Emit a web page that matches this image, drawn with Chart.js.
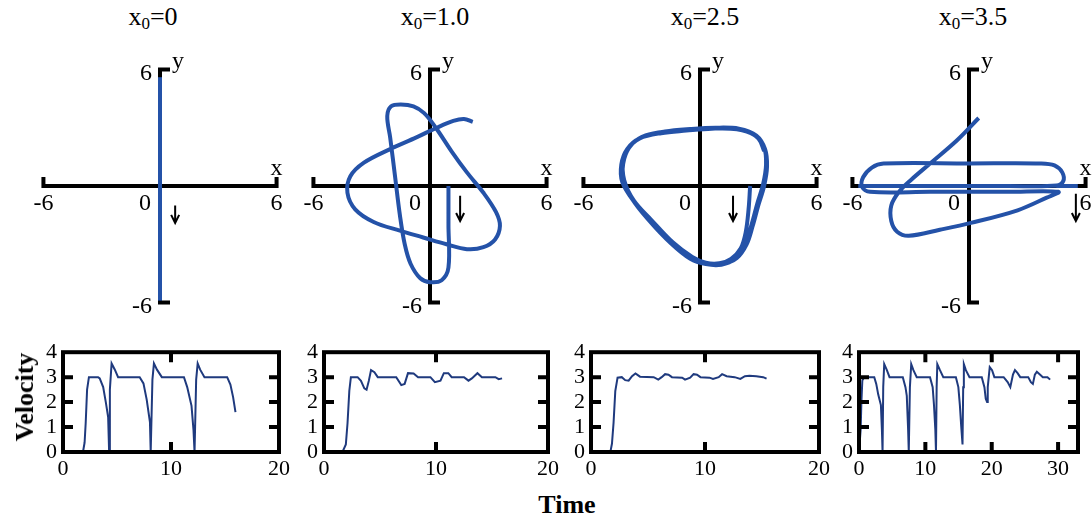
<!DOCTYPE html>
<html>
<head>
<meta charset="utf-8">
<script src="https://cdn.jsdelivr.net/npm/chart.js"></script>
<style>
body { margin:0; width:1092px; height:522px; overflow:hidden; background:#fff; position:relative; font-family:"Liberation Serif", serif; }
canvas { position:absolute; }
.ttl { position:absolute; top:0; font-size:26px; line-height:34px; white-space:nowrap; transform:translateX(-50%); }
.ttl sub { font-size:17px; vertical-align:-4px; line-height:0; }
#vel { position:absolute; left:25px; top:397px; font-weight:bold; font-size:26px; white-space:nowrap; transform:translate(-50%,-50%) rotate(-90deg); }
#time { position:absolute; left:567px; top:505px; font-weight:bold; font-size:26px; transform:translate(-50%,-50%); }
</style>
</head>
<body>
<div class="ttl" style="left:153px">x<sub>0</sub>=0</div>
<div class="ttl" style="left:435px">x<sub>0</sub>=1.0</div>
<div class="ttl" style="left:705px">x<sub>0</sub>=2.5</div>
<div class="ttl" style="left:973px">x<sub>0</sub>=3.5</div>

<canvas id="top1" width="272" height="272" style="left:24px;top:50px"></canvas>
<canvas id="top2" width="272" height="272" style="left:294px;top:50px"></canvas>
<canvas id="top3" width="272" height="272" style="left:564px;top:50px"></canvas>
<canvas id="top4" width="272" height="272" style="left:833px;top:50px"></canvas>

<canvas id="vel1" width="271" height="149" style="left:23px;top:333px"></canvas>
<canvas id="vel2" width="279" height="149" style="left:284px;top:333px"></canvas>
<canvas id="vel3" width="283" height="149" style="left:551px;top:333px"></canvas>
<canvas id="vel4" width="274" height="149" style="left:819px;top:333px"></canvas>

<div id="vel">Velocity</div>
<div id="time">Time</div>

<script>
// trajectories (x, y) for each starting point
var pathX1 = [0, 0]
var pathY1 = [5.6, -5.9]

var pathX2 = [0.95,0.95,0.95,0.6,0,-0.5,-1.0,-1.3,-1.55,-1.8,-2.05,-2.2,-2.0,-1.5,-0.85,-0.3,0.3,1.1,1.9,2.75,3.4,3.6,3.35,2.75,1.9,0.85,-0.35,-1.55,-2.9,-3.85,-4.25,-4.1,-3.4,-2.05,-0.7,0.35,1.2,1.75,2.2]
var pathY2 = [0,-2.0,-4.2,-4.85,-4.95,-4.75,-4.0,-3.0,-1.5,0.5,2.5,3.6,4.1,4.2,4.1,3.75,3.0,1.8,0.7,-0.35,-1.35,-2.05,-2.75,-3.15,-3.25,-3.0,-2.65,-2.3,-1.85,-1.2,-0.35,0.5,1.2,1.9,2.5,3.0,3.35,3.45,3.3]

var pathX3 = [2.58,2.5,2.35,2.1,1.6,1.0,0.3,-0.4,-1.4,-2.5,-3.4,-3.9,-3.95,-3.6,-2.9,-1.8,-0.5,0.8,2.0,2.9,3.35,3.45,3.3,3.0,2.7,2.4,1.9,1.2,0.4,-0.3,-1.3,-2.4,-3.4,-4.0,-4.05,-3.75,-3.1,-2.0,-0.7,0.6,1.9,2.8,3.3,3.4,3.25,2.95,2.65,2.3,1.8,1.1,0.3,-0.5,-1.5,-2.6,-3.5,-3.95,-3.9,-3.5,-2.8,-1.6,-0.2,1.2,2.3,3.0,3.3]
var pathY3 = [0,-1.2,-2.4,-3.2,-3.75,-3.98,-3.95,-3.65,-2.9,-1.75,-0.75,0.3,1.3,2.05,2.55,2.8,2.93,3.0,2.95,2.6,1.9,1.0,0.0,-1.0,-2.1,-3.0,-3.7,-4.0,-4.0,-3.8,-3.1,-1.95,-0.8,0.2,1.1,1.9,2.45,2.72,2.85,2.95,2.92,2.62,2.0,1.1,0.1,-0.9,-2.0,-3.0,-3.75,-4.05,-4.02,-3.75,-2.95,-1.8,-0.65,0.4,1.4,2.15,2.6,2.82,2.95,2.98,2.85,2.45,1.8]

var pathX4 = [0.5,-0.6,-2.0,-3.0,-3.6,-4.0,-4.0,-3.7,-3.1,-1.5,0.1,2.5,4.0,4.6,2,-2,-5.1,-5.5,-5.45,-5.0,-4.4,0,3.7,4.4,4.8,4.85,4.5,2,-2,-5.7,null,4.5,5.6]
var pathY4 = [3.5,2.37,1.16,0.3,-0.3,-1.0,-1.8,-2.35,-2.56,-2.25,-1.9,-1.25,-0.6,-0.3,-0.3,-0.3,-0.3,-0.05,0.45,0.95,1.16,1.16,1.16,1.06,0.7,0.25,0.02,0.0,0.0,0.0,null,0.0,0.0]

// start direction arrows: x, top y, bottom y
var arrowX = [0.78, 1.55, 1.7, 5.5]
var arrowTop = [-1.0, -0.5, -0.5, -0.4]
var arrowBottom = [-1.9, -1.8, -1.8, -1.8]

// velocity vs time
var time1 = [0,1.85,2.0,2.1,2.23,2.4,3.25,3.4,3.72,3.97,4.18,4.27,4.34,4.5,4.8,5.1,7.1,7.45,7.75,8.05,8.12,8.28,8.42,8.7,9.15,11.2,11.5,11.9,12.08,12.18,12.33,12.47,12.7,13.1,15.2,15.5,15.75,15.97]
var velo1 = [0,0,0.38,1.15,2.5,3.0,3.0,2.95,2.6,1.98,1.4,0,2.5,3.55,3.3,3.0,3.0,2.75,2.1,1.2,0,2.9,3.55,3.3,3.0,3.0,2.6,1.85,0.9,0,2.9,3.55,3.3,3.0,3.0,2.7,2.2,1.6]

var time2 = [0,1.65,1.95,2.1,2.26,2.4,3.0,3.3,3.6,3.8,4.0,4.2,4.5,4.8,6.45,6.9,7.2,7.5,8.0,8.4,9.5,9.9,10.4,10.7,11.1,11.4,12.5,12.9,13.2,13.7,14.1,15.3,15.6,15.9]
var velo2 = [0,0,0.3,1.15,2.45,3.0,3.0,2.85,2.55,2.5,2.85,3.28,3.2,3.0,3.0,2.68,2.73,3.16,3.15,3.0,3.0,2.8,2.86,3.16,3.16,3.0,3.0,2.86,2.95,3.16,3.0,3.0,2.92,2.95]

var time3 = [0,1.7,1.84,1.98,2.13,2.33,2.7,3.0,3.3,3.6,3.9,4.3,5.5,5.9,6.2,6.5,6.8,7.1,8.0,8.25,8.7,9.0,9.3,9.6,10.4,10.7,11.2,11.5,11.9,12.6,13.1,13.5,13.9,14.5,15.1,15.4]
var velo3 = [0,0,0.34,1.18,2.44,2.98,3.0,2.88,2.86,3.04,3.15,3.02,3.0,2.9,3.0,3.12,3.1,3.0,2.98,2.9,2.98,3.12,3.1,3.0,2.98,2.93,3.0,3.12,3.04,3.0,2.93,3.04,3.06,3.04,3.0,2.94]

var time4 = [0,0.25,0.36,0.5,0.76,2.3,2.6,2.9,3.3,3.45,3.55,3.65,3.8,4.2,4.6,6.6,7.0,7.2,7.4,7.5,7.67,7.87,8.2,8.7,10.7,11.1,11.3,11.5,11.6,11.7,11.8,12.2,12.7,14.6,14.97,15.2,15.4,15.6,15.7,15.8,16.1,16.65,18.5,18.9,19.1,19.3,19.4,19.7,20.05,20.4,21.8,22.4,22.8,23.2,23.5,23.9,24.3,25.5,25.9,26.2,26.5,26.8,27.3,27.7,28.4,28.8]
var velo4 = [0,0.9,2.0,2.86,3.0,3.0,2.73,2.3,1.88,0.9,0,2.6,3.52,3.28,3.0,3.0,2.6,2.25,0.9,0,2.6,3.52,3.28,3.0,3.0,2.6,1.88,0.9,0,2.6,3.52,3.28,3.0,3.0,2.6,1.88,1.03,0.3,2.6,3.52,3.28,3.0,3.0,2.6,2.13,2.0,2.6,3.4,3.28,3.0,3.0,2.8,2.6,3.1,3.28,3.16,3.0,3.0,2.8,2.73,3.1,3.22,3.1,3.0,3.0,2.9]

var timeMax = [20, 20, 20, 33]

var blue = '#2452a8'
var navy = '#1f3a7e'
var serif = '"Liberation Serif", "Times New Roman", serif'

function pts(xs, ys) {
    return xs.map(function (x, i) { return { x: x, y: ys[i] } })
}

// black cross axes with bracket ends, drawn under the trajectory
var crossAxes = {
    id: 'crossAxes',
    beforeDatasetsDraw: function (chart, args, opts) {
        var ctx = chart.ctx
        var px = function (v) { return chart.scales.x.getPixelForValue(v) }
        var py = function (v) { return chart.scales.y.getPixelForValue(v) }
        ctx.save()
        ctx.strokeStyle = '#000'
        ctx.lineWidth = 4
        ctx.lineJoin = 'miter'
        ctx.beginPath()
        ctx.moveTo(px(-6), py(0) - 9)
        ctx.lineTo(px(-6), py(0))
        ctx.lineTo(px(6), py(0))
        ctx.lineTo(px(6), py(0) - 9)
        ctx.stroke()
        ctx.beginPath()
        ctx.moveTo(px(0) + 10, py(6))
        ctx.lineTo(px(0), py(6))
        ctx.lineTo(px(0), py(-6))
        ctx.lineTo(px(0) + 10, py(-6))
        ctx.stroke()

        ctx.fillStyle = '#000'
        ctx.font = '24px ' + serif
        ctx.textAlign = 'center'
        ctx.textBaseline = 'top'
        ctx.fillText('-6', px(-6), py(0) + 6)
        ctx.fillText('6', px(6), py(0) + 6)
        ctx.fillText('0', px(0) - 15, py(0) + 6)
        ctx.textBaseline = 'alphabetic'
        ctx.fillText('x', px(6), py(0) - 11)
        ctx.textAlign = 'left'
        ctx.textBaseline = 'middle'
        ctx.fillText('y', px(0) + 12, py(6) - 8)
        ctx.textAlign = 'right'
        ctx.fillText('6', px(0) - 8, py(6) + 4)
        ctx.fillText('-6', px(0) - 8, py(-6) + 4)

        // start direction arrow
        var a = opts.arrow
        var ax = px(a[0]), ay1 = py(a[1]), ay2 = py(a[2])
        ctx.lineWidth = 2
        ctx.beginPath()
        ctx.moveTo(ax, ay1)
        ctx.lineTo(ax, ay2)
        ctx.moveTo(ax - 4, ay2 - 8)
        ctx.lineTo(ax, ay2)
        ctx.lineTo(ax + 4, ay2 - 8)
        ctx.stroke()
        ctx.restore()
    }
}

// frame with inward ticks on all four sides
var frameTicks = {
    id: 'frameTicks',
    afterDatasetsDraw: function (chart) {
        var ctx = chart.ctx
        var a = chart.chartArea
        var xs = chart.scales.x, ys = chart.scales.y
        ctx.save()
        ctx.strokeStyle = '#000'
        ctx.lineWidth = 4
        ctx.strokeRect(a.left, a.top, a.right - a.left, a.bottom - a.top)
        ctx.beginPath()
        xs.ticks.forEach(function (t) {
            if (t.value <= xs.min || t.value >= xs.max) return
            var p = xs.getPixelForValue(t.value)
            ctx.moveTo(p, a.bottom); ctx.lineTo(p, a.bottom - 10)
            ctx.moveTo(p, a.top); ctx.lineTo(p, a.top + 10)
        })
        ys.ticks.forEach(function (t) {
            if (t.value <= ys.min || t.value >= ys.max) return
            var p = ys.getPixelForValue(t.value)
            ctx.moveTo(a.left, p); ctx.lineTo(a.left + 10, p)
            ctx.moveTo(a.right, p); ctx.lineTo(a.right - 10, p)
        })
        ctx.stroke()
        ctx.restore()
    }
}

function drawPath(id, xs, ys, k) {
    new Chart(document.getElementById(id), {
        type: 'scatter',
        data: { datasets: [{ data: pts(xs, ys), showLine: true, borderColor: blue, borderWidth: 4, pointRadius: 0, tension: 0.35, spanGaps: false }] },
        options: {
            responsive: false, animation: false, events: [],
            layout: { padding: 0 },
            scales: {
                x: { type: 'linear', min: -7, max: 7, display: false },
                y: { type: 'linear', min: -7, max: 7, display: false }
            },
            plugins: { legend: { display: false }, tooltip: { enabled: false }, crossAxes: { arrow: [arrowX[k], arrowTop[k], arrowBottom[k]] } }
        },
        plugins: [crossAxes]
    })
}

function drawVelocity(id, ts, vs, tMax) {
    var tickFont = { family: serif, size: 22 }
    new Chart(document.getElementById(id), {
        type: 'line',
        data: { datasets: [{ data: pts(ts, vs), borderColor: navy, borderWidth: 2, pointRadius: 0, tension: 0 }] },
        options: {
            responsive: false, animation: false, events: [],
            layout: { padding: { top: 10, right: 15, left: 0, bottom: 0 } },
            scales: {
                x: {
                    type: 'linear', min: 0, max: tMax,
                    ticks: { stepSize: 10, includeBounds: false, color: '#000', font: tickFont, padding: 4, maxRotation: 0, autoSkip: false },
                    grid: { display: false, drawTicks: false }, border: { display: false },
                    afterFit: function (s) { s.height = 30 }
                },
                y: {
                    type: 'linear', min: 0, max: 4,
                    ticks: { stepSize: 1, color: '#000', font: tickFont, padding: 6, autoSkip: false },
                    grid: { display: false, drawTicks: false }, border: { display: false },
                    afterFit: function (s) { s.width = 40 }
                }
            },
            plugins: { legend: { display: false }, tooltip: { enabled: false } }
        },
        plugins: [frameTicks]
    })
}

drawPath('top1', pathX1, pathY1, 0)
drawPath('top2', pathX2, pathY2, 1)
drawPath('top3', pathX3, pathY3, 2)
drawPath('top4', pathX4, pathY4, 3)

drawVelocity('vel1', time1, velo1, timeMax[0])
drawVelocity('vel2', time2, velo2, timeMax[1])
drawVelocity('vel3', time3, velo3, timeMax[2])
drawVelocity('vel4', time4, velo4, timeMax[3])
</script>
</body>
</html>
